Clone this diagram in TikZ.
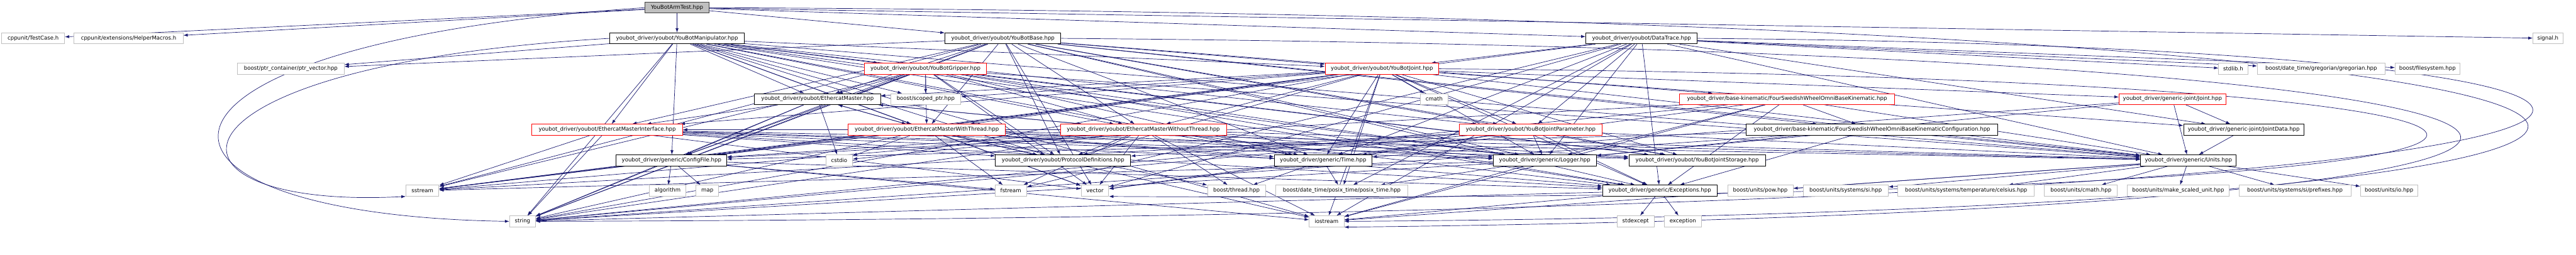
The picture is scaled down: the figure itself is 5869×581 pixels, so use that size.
\documentclass[tikz,border=0pt]{standalone}
\usepackage{fontspec}
\setmainfont{DejaVu Sans}
\usepackage{tikz}
\usetikzlibrary{arrows.meta,backgrounds}

\definecolor{edgeblue}{HTML}{191970}
\definecolor{extgray}{HTML}{BFBFBF}
\definecolor{rootgray}{HTML}{404040}

\begin{document}
\begin{tikzpicture}[
    x=1pt, y=-1pt,
    file/.style={draw, minimum height=25, inner sep=0pt, line width=1.3pt, font=\fontsize{12.3}{14}\selectfont, fill=white},
    header/.style={file, draw=black},
    truncated/.style={file, draw=red},
    external/.style={file, draw=extgray},
    focus/.style={file, draw=rootgray, fill=extgray},
    dep/.style={-{Latex[length=10pt, width=7pt]}, draw=edgeblue, line width=1pt}
]
\useasboundingbox (0,0) rectangle (5869,581);

% row 0
\node[focus, minimum width=145] (root) at (1542.5,17.5) {YouBotArmTest.hpp};
% row 1
\node[external, minimum width=143] (tc) at (75.5,87.5) {cppunit/TestCase.h};
\node[external, minimum width=248] (hm) at (293,87.5) {cppunit/extensions/HelperMacros.h};
\node[header, minimum width=307] (manip) at (1542.5,87.5) {youbot\_driver/youbot/YouBotManipulator.hpp};
\node[header, minimum width=264] (base) at (2285,87.5) {youbot\_driver/youbot/YouBotBase.hpp};
\node[header, minimum width=254] (trace) at (3740,87.5) {youbot\_driver/youbot/DataTrace.hpp};
\node[external, minimum width=68] (sig) at (5805,87.5) {signal.h};
% row 2
\node[external, minimum width=243] (ptrvec) at (662.5,157) {boost/ptr\_container/ptr\_vector.hpp};
\node[truncated, minimum width=279] (gripper) at (2108.5,157) {youbot\_driver/youbot/YouBotGripper.hpp};
\node[truncated, minimum width=259] (joint) at (3148.5,157) {youbot\_driver/youbot/YouBotJoint.hpp};
\node[external, minimum width=66] (stdlib) at (5088,157) {stdlib.h};
\node[external, minimum width=291] (greg) at (5288.5,157) {boost/date\_time/gregorian/gregorian.hpp};
\node[external, minimum width=147] (fs) at (5530.5,157) {boost/filesystem.hpp};
% row 3
\node[header, minimum width=287] (ecm) at (1862.5,226) {youbot\_driver/youbot/EthercatMaster.hpp};
\node[external, minimum width=160] (scoped) at (2109,226) {boost/scoped\_ptr.hpp};
\node[external, minimum width=63] (cmath) at (3267.5,226) {cmath};
\node[truncated, minimum width=491] (kin) at (4071.5,226) {youbot\_driver/base-kinematic/FourSwedishWheelOmniBaseKinematic.hpp};
\node[truncated, minimum width=243] (gjoint) at (4949.5,226) {youbot\_driver/generic-joint/Joint.hpp};
% row 4
\node[truncated, minimum width=343] (ecmi) at (1383.5,296) {youbot\_driver/youbot/EthercatMasterInterface.hpp};
\node[truncated, minimum width=359] (ecmwt) at (2111.5,296) {youbot\_driver/youbot/EthercatMasterWithThread.hpp};
\node[truncated, minimum width=378] (ecmwot) at (2605,296) {youbot\_driver/youbot/EthercatMasterWithoutThread.hpp};
\node[truncated, minimum width=325] (jparam) at (3487.5,296) {youbot\_driver/youbot/YouBotJointParameter.hpp};
\node[header, minimum width=574] (kinconf) at (4265,296) {youbot\_driver/base-kinematic/FourSwedishWheelOmniBaseKinematicConfiguration.hpp};
\node[header, minimum width=274] (jdata) at (5112,296) {youbot\_driver/generic-joint/JointData.hpp};
% row 5
\node[header, minimum width=252] (config) at (1530,366) {youbot\_driver/generic/ConfigFile.hpp};
\node[external, minimum width=60] (cstdio) at (1912,366) {cstdio};
\node[header, minimum width=308] (proto) at (2422,366) {youbot\_driver/youbot/ProtocolDefinitions.hpp};
\node[header, minimum width=223] (time) at (3014.5,366) {youbot\_driver/generic/Time.hpp};
\node[header, minimum width=235] (logger) at (3519.5,366) {youbot\_driver/generic/Logger.hpp};
\node[header, minimum width=311] (jstore) at (3866.5,366) {youbot\_driver/youbot/YouBotJointStorage.hpp};
\node[header, minimum width=218] (units) at (4986,366) {youbot\_driver/generic/Units.hpp};
% row 6
\node[external, minimum width=75] (sstream) at (962.5,435) {sstream};
\node[external, minimum width=82] (algo) at (1521,435) {algorithm};
\node[external, minimum width=51] (map) at (1611.5,435) {map};
\node[external, minimum width=72] (fstream) at (2303,435) {fstream};
\node[external, minimum width=63] (vector) at (2494.5,435) {vector};
\node[external, minimum width=132] (thread) at (2817,435) {boost/thread.hpp};
\node[external, minimum width=302] (posix) at (3057,435) {boost/date\_time/posix\_time/posix\_time.hpp};
\node[header, minimum width=261] (exc) at (3781.5,435) {youbot\_driver/generic/Exceptions.hpp};
\node[external, minimum width=149] (pow) at (4010.5,435) {boost/units/pow.hpp};
\node[external, minimum width=194] (si) at (4205,435) {boost/units/systems/si.hpp};
\node[external, minimum width=311] (celsius) at (4479.5,435) {boost/units/systems/temperature/celsius.hpp};
\node[external, minimum width=166] (ucmath) at (4741,435) {boost/units/cmath.hpp};
\node[external, minimum width=233] (scaled) at (4962.5,435) {boost/units/make\_scaled\_unit.hpp};
\node[external, minimum width=255] (prefix) at (5228.5,435) {boost/units/systems/si/prefixes.hpp};
\node[external, minimum width=130] (uio) at (5443,435) {boost/units/io.hpp};
% row 7
\node[external, minimum width=59] (string) at (1190.5,505) {string};
\node[external, minimum width=79] (iostream) at (3022.5,505) {iostream};
\node[external, minimum width=85] (stdexc) at (3726.5,505) {stdexcept};
\node[external, minimum width=84] (exception) at (3834,505) {exception};

% include edges, behind the boxes
\begin{pgfonlayer}{background}
\foreach \t in {tc,hm,manip,base,trace,sig}
    \draw[dep] (root) -- (\t);
% long detours round the left and right sides
\draw[dep] (root.west) .. controls (232,100) and (232,490) .. (string.west);
\draw[dep] (manip.west) .. controls (321,150) and (321,480) .. (sstream.south west);
\draw[dep] (root.east) .. controls (6869,40) and (6869,480) .. (iostream.east);
\draw[dep] (trace.east) .. controls (6739,110) and (6739,490) .. (string.east);
\draw[dep] (base.east) .. controls (6553,120) and (6553,480) .. (iostream.south east);
\draw[dep] (joint.east) .. controls (6393,180) and (6393,470) .. (vector.south east);
\foreach \t in {ptrvec,gripper,joint,ecm,ecmi,ecmwt,ecmwot,jparam,jstore,proto,config,logger,time,units,exc,scoped,vector,string,iostream}
    \draw[dep] (manip) -- (\t);
\foreach \t in {ptrvec,joint,kin,kinconf,ecm,ecmi,ecmwt,ecmwot,jparam,jstore,proto,config,logger,time,units,exc,vector,sstream,string}
    \draw[dep] (base) -- (\t);
\foreach \t in {joint,jparam,logger,time,units,exc,fstream,sstream,vector,iostream,stdlib,greg,fs,posix,jdata}
    \draw[dep] (trace) -- (\t);
\foreach \t in {scoped,ecm,ecmwt,ecmwot,proto,jstore,config,logger,time,units,exc,vector,sstream,string}
    \draw[dep] (gripper) -- (\t);
\foreach \t in {scoped,cmath,gjoint,jdata,ecm,ecmi,ecmwt,ecmwot,jparam,jstore,proto,config,logger,time,units,exc,posix,sstream,string,iostream}
    \draw[dep] (joint) -- (\t);
\foreach \t in {ecmi,ecmwt,ecmwot,config,cstdio,string}
    \draw[dep] (ecm) -- (\t);
\foreach \t in {proto,jstore,logger,time,units,exc,vector,sstream,string}
    \draw[dep] (ecmi) -- (\t);
\foreach \t in {ecm,ecmi,proto,jstore,config,logger,time,units,exc,cstdio,fstream,thread,vector,sstream,string,iostream}
    \draw[dep] (ecmwt) -- (\t);
\foreach \t in {ecm,ecmi,proto,jstore,config,logger,time,units,exc,cstdio,fstream,thread,vector,sstream,string,iostream}
    \draw[dep] (ecmwot) -- (\t);
\foreach \t in {proto,jstore,logger,time,units,exc,vector,sstream,string}
    \draw[dep] (jparam) -- (\t);
\foreach \t in {kinconf,config,logger,units,exc,vector,string,iostream}
    \draw[dep] (kin) -- (\t);
\foreach \t in {config,logger,units,exc,string}
    \draw[dep] (kinconf) -- (\t);
\foreach \t in {jdata,units,logger,time}
    \draw[dep] (gjoint) -- (\t);
\draw[dep] (jdata) -- (units);
\foreach \t in {algo,map,exc,fstream,sstream,string,iostream}
    \draw[dep] (config) -- (\t);
\foreach \t in {posix,thread}
    \draw[dep] (time) -- (\t);
\foreach \t in {string,sstream,iostream,posix}
    \draw[dep] (logger) -- (\t);
\foreach \t in {stdexc,exception,string,iostream}
    \draw[dep] (exc) -- (\t);
\foreach \t in {pow,si,celsius,ucmath,scaled,prefix,uio,iostream}
    \draw[dep] (units) -- (\t);
\end{pgfonlayer}
\end{tikzpicture}
\end{document}
